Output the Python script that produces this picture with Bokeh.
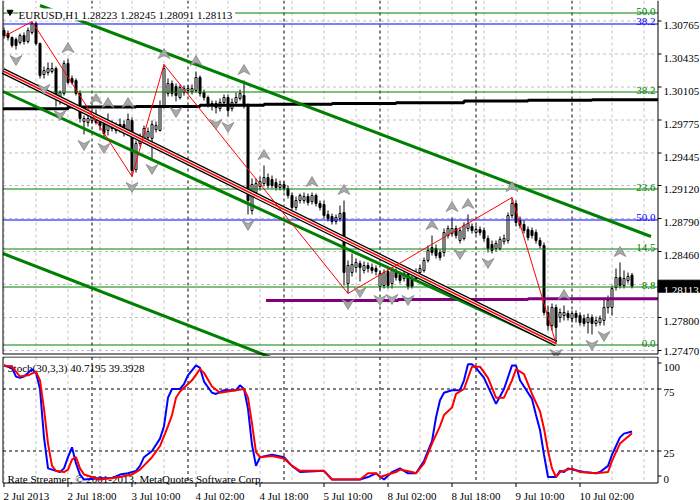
import numpy as np
from bokeh.plotting import figure
from bokeh.models import Range1d, Label
from bokeh.layouts import column
from bokeh.embed import file_html
from bokeh.resources import INLINE
from bokeh.core.properties import value

FONT = "Liberation Sans Narrow"
FS = "11px"

# ---------------- data (EURUSD H1, bar 0 = 2 Jul 2013 02:00) ----------------
opens = [1.3067, 1.3064, 1.3060, 1.3058, 1.3055, 1.3062, 1.3056, 1.3065, 1.3074, 1.3054,
         1.3023, 1.3025, 1.3026, 1.3029, 1.3000, 1.3004, 1.3034, 1.3019, 1.3017, 1.3004,
         1.2976, 1.2975, 1.2977, 1.2981, 1.2976, 1.2974, 1.2967, 1.2973, 1.2971, 1.2973,
         1.2973, 1.2964, 1.2977, 1.2928, 1.2954, 1.2958, 1.2960, 1.2959, 1.2968, 1.2967,
         1.2992, 1.3004, 1.3014, 1.3011, 1.3000, 1.3005, 1.3007, 1.3006, 1.3007, 1.3020,
         1.3005, 1.3000, 1.2994, 1.2994, 1.2989, 1.2995, 1.3000, 1.2989, 1.2995, 1.2999,
         1.3002, 1.2992, 1.2887, 1.2905, 1.2911, 1.2914, 1.2920, 1.2918, 1.2915, 1.2910,
         1.2913, 1.2909, 1.2902, 1.2890, 1.2897, 1.2897, 1.2901, 1.2896, 1.2902, 1.2894,
         1.2893, 1.2883, 1.2881, 1.2876, 1.2879, 1.2885, 1.2814, 1.2825, 1.2830, 1.2834,
         1.2827, 1.2832, 1.2830, 1.2829, 1.2811, 1.2812, 1.2826, 1.2814, 1.2826, 1.2823,
         1.2819, 1.2823, 1.2818, 1.2819, 1.2825, 1.2827, 1.2837, 1.2850, 1.2849, 1.2845,
         1.2845, 1.2862, 1.2864, 1.2869, 1.2857, 1.2859, 1.2869, 1.2871, 1.2865, 1.2868,
         1.2867, 1.2859, 1.2853, 1.2849, 1.2849, 1.2856, 1.2857, 1.2882, 1.2894, 1.2877,
         1.2873, 1.2868, 1.2867, 1.2865, 1.2857, 1.2852, 1.2785, 1.2772, 1.2790, 1.2780,
         1.2782, 1.2784, 1.2779, 1.2784, 1.2782, 1.2779, 1.2775, 1.2780, 1.2774, 1.2775,
         1.2777, 1.2790, 1.2790, 1.2810, 1.2820, 1.2812, 1.2817, 1.28223]
highs = [1.3070, 1.3067, 1.3061, 1.3060, 1.3064, 1.3065, 1.3070, 1.3076, 1.3076, 1.3055,
         1.3031, 1.3035, 1.3035, 1.3031, 1.3007, 1.3037, 1.3039, 1.3022, 1.3019, 1.3007,
         1.2982, 1.2983, 1.2986, 1.2988, 1.2979, 1.2978, 1.2984, 1.2977, 1.2975, 1.2979,
         1.2977, 1.2984, 1.2980, 1.2957, 1.2964, 1.2972, 1.2970, 1.2977, 1.2976, 1.2997,
         1.3033, 1.3019, 1.3017, 1.3014, 1.3013, 1.3012, 1.3012, 1.3013, 1.3026, 1.3022,
         1.3008, 1.3002, 1.2997, 1.2997, 1.2999, 1.3003, 1.3003, 1.2999, 1.3005, 1.3008,
         1.3017, 1.2994, 1.2919, 1.2919, 1.2921, 1.2932, 1.2924, 1.2922, 1.2919, 1.2917,
         1.2916, 1.2912, 1.2905, 1.2901, 1.2904, 1.2905, 1.2904, 1.2905, 1.2904, 1.2897,
         1.2897, 1.2887, 1.2884, 1.2883, 1.2892, 1.2897, 1.2837, 1.2844, 1.2839, 1.2837,
         1.2836, 1.2835, 1.2834, 1.2832, 1.2827, 1.2828, 1.2829, 1.2830, 1.2829, 1.2826,
         1.2827, 1.2826, 1.2822, 1.2829, 1.2833, 1.2840, 1.2852, 1.2862, 1.2853, 1.2848,
         1.2869, 1.2872, 1.2880, 1.2872, 1.2870, 1.2875, 1.2883, 1.2874, 1.2872, 1.2871,
         1.2870, 1.2862, 1.2857, 1.2857, 1.2861, 1.2863, 1.2885, 1.2900, 1.2897, 1.2881,
         1.2877, 1.2871, 1.2870, 1.2868, 1.2860, 1.2855, 1.2792, 1.2794, 1.2793, 1.2789,
         1.2792, 1.2787, 1.2787, 1.2787, 1.2785, 1.2783, 1.2784, 1.2783, 1.2781, 1.2782,
         1.2799, 1.2802, 1.2812, 1.2829, 1.2835, 1.2827, 1.2825, 1.28245]
lows = [1.3059, 1.3057, 1.3050, 1.3048, 1.3053, 1.3053, 1.3054, 1.3063, 1.3052, 1.3019,
        1.3019, 1.3022, 1.3024, 1.2991, 1.2993, 1.3002, 1.3013, 1.3013, 1.3002, 1.2975,
        1.2963, 1.2971, 1.2974, 1.2973, 1.2967, 1.2960, 1.2962, 1.2966, 1.2964, 1.2965,
        1.2961, 1.2962, 1.2921, 1.2925, 1.2951, 1.2955, 1.2957, 1.2939, 1.2965, 1.2966,
        1.2989, 1.3001, 1.3001, 1.2996, 1.2998, 1.3002, 1.3004, 1.3003, 1.3005, 1.3001,
        1.2997, 1.2990, 1.2987, 1.2984, 1.2986, 1.2992, 1.2981, 1.2986, 1.2993, 1.2997,
        1.2989, 1.2883, 1.2883, 1.2901, 1.2907, 1.2911, 1.2909, 1.2909, 1.2907, 1.2907,
        1.2906, 1.2899, 1.2887, 1.2887, 1.2894, 1.2894, 1.2892, 1.2893, 1.2891, 1.2887,
        1.2879, 1.2876, 1.2873, 1.2873, 1.2876, 1.2812, 1.2804, 1.2821, 1.2825, 1.2816,
        1.2824, 1.2825, 1.2824, 1.2822, 1.2808, 1.2809, 1.2809, 1.2809, 1.2817, 1.2814,
        1.2816, 1.2808, 1.2809, 1.2816, 1.2822, 1.2825, 1.2835, 1.2842, 1.2839, 1.2837,
        1.2841, 1.2859, 1.2861, 1.2859, 1.2854, 1.2857, 1.2866, 1.2864, 1.2863, 1.2862,
        1.2856, 1.2845, 1.2844, 1.2846, 1.2847, 1.2853, 1.2854, 1.2879, 1.2871, 1.2869,
        1.2864, 1.2857, 1.2859, 1.2854, 1.2849, 1.2782, 1.2767, 1.2767, 1.2754, 1.2775,
        1.2777, 1.2777, 1.2775, 1.2775, 1.2772, 1.2771, 1.2764, 1.2763, 1.2771, 1.2772,
        1.2772, 1.2784, 1.2782, 1.2807, 1.2809, 1.2809, 1.2814, 1.28091]
closes = [1.3062, 1.3060, 1.3052, 1.3052, 1.3062, 1.3056, 1.3067, 1.3074, 1.3054, 1.3022,
          1.3027, 1.3029, 1.3029, 1.3000, 1.3005, 1.3034, 1.3015, 1.3015, 1.3004, 1.2979,
          1.2979, 1.2979, 1.2982, 1.2975, 1.2972, 1.2964, 1.2974, 1.2969, 1.2967, 1.2968,
          1.2964, 1.2978, 1.2927, 1.2954, 1.2960, 1.2969, 1.2966, 1.2973, 1.2972, 1.2992,
          1.3029, 1.3014, 1.3004, 1.3002, 1.3010, 1.3009, 1.3009, 1.3009, 1.3020, 1.3004,
          1.3000, 1.2993, 1.2992, 1.2990, 1.2995, 1.3000, 1.2987, 1.2995, 1.3000, 1.3004,
          1.2992, 1.2897, 1.2913, 1.2914, 1.2916, 1.2920, 1.2912, 1.2912, 1.2910, 1.2913,
          1.2909, 1.2902, 1.2890, 1.2897, 1.2902, 1.2901, 1.2895, 1.2902, 1.2894, 1.2890,
          1.2882, 1.2879, 1.2876, 1.2880, 1.2884, 1.2825, 1.2832, 1.2833, 1.2835, 1.2830,
          1.2832, 1.2829, 1.2827, 1.2826, 1.2824, 1.2825, 1.2812, 1.2827, 1.2820, 1.2817,
          1.2824, 1.2811, 1.2811, 1.2825, 1.2829, 1.2837, 1.2847, 1.2845, 1.2842, 1.2840,
          1.2865, 1.2869, 1.2869, 1.2862, 1.2867, 1.2872, 1.2874, 1.2867, 1.2868, 1.2865,
          1.2859, 1.2849, 1.2847, 1.2854, 1.2858, 1.2859, 1.2882, 1.2894, 1.2875, 1.2872,
          1.2867, 1.2860, 1.2862, 1.2857, 1.2852, 1.2785, 1.2772, 1.2790, 1.2770, 1.2785,
          1.2785, 1.2780, 1.2784, 1.2780, 1.2775, 1.2774, 1.2780, 1.2774, 1.2777, 1.2779,
          1.2790, 1.2797, 1.2809, 1.2820, 1.2812, 1.2819, 1.2821, 1.28113]

fractal_up_bars = [16, 23, 26, 31, 40, 48, 60, 65, 77, 85, 107, 112, 116, 127, 140, 154]
fractal_down_bars = [3, 10, 14, 20, 25, 32, 37, 43, 53, 56, 61, 86, 89, 94, 97, 101, 114, 121, 138, 147, 150]

zigzag_bars = [0, 7, 32, 40, 86, 127, 138]
zigzag_prices = [1.3061, 1.3076, 1.2921, 1.3033, 1.2804, 1.2900, 1.2754]

fib_green_prices = [1.27525, 1.28105, 1.28485, 1.29085, 1.30055, 1.30845]
fib_green_labels = ["0.0", "8.8", "14.5", "23.6", "38.2", "50.0"]
fib_blue_prices = [1.30735, 1.28775]
fib_blue_labels = ["38.2", "50.0"]

black_step_edges = [-0.25, 16, 33, 49, 65, 82, 98, 115, 131, 147, 163.5]
black_step_prices = [1.29888, 1.29905, 1.2991, 1.29922, 1.29932, 1.2994, 1.29948, 1.29965, 1.29972, 1.29978]
purple_step_edges = [65.5, 98.5, 131, 163.5]
purple_step_prices = [1.2797, 1.2798, 1.27988]

chan_upper_bars, chan_upper_prices = [9, 161.75], [1.3092, 1.2861]
chan_lower_bars, chan_lower_prices = [-0.25, 70], [1.2844, 1.2735]
trend_black_bars, trend_black_prices = [-0.25, 138], [1.30265, 1.2754]
trend_green_bars, trend_green_prices = [-0.25, 138], [1.3006, 1.2753]

k_bars = [0,2,3,4,5,6,7,8,9,10,11,12,13,14,15,16,17,18,19,20,24,27,29,31,33,34,35,37,39,40,
          41,42,44,45,46,48,49,50,52,53,55,58,59,60,61,62,63,64,67,70,72,74,80,82,89,91,93,95,97,99,
          101,103,105,107,108,109,110,112,114,115,116,117,118,120,123,124,125,127,128,129,
          132,133,134,135,136,138,139,140,141,142,145,148,149,151,152,154,155,157]
k_vals = [94,92,85,84,85,88,91,88,75,36,11,10,9,8,11,20,28,15,6,2,3,3,6,7,9,13,20,25,35,45,
          68,75,75,79,86,94,92,81,72,71,74,74,78,75,59,30,13,20,22,20,13,8,9,2,2,4,7,2,8,11,
          7,7,17,33,52,66,72,74,74,82,95,95,92,84,63,69,75,94,94,82,
          67,54,42,22,4,4,9,8,11,10,8,7,8,13,22,36,39,40.7195]
d_bars = [0,2,4,6,8,9,10,11,12,13,15,16,17,18,19,20,22,24,29,32,34,37,39,41,42,43,44,47,49,50,
          52,54,58,60,61,62,63,64,67,70,72,74,80,82,89,91,93,94,98,99,102,103,105,107,109,110,112,113,115,117,
          119,121,123,125,127,128,130,132,134,135,136,137,138,139,142,144,148,151,152,154,157]
d_vals = [94,93,85,86,89,82,59,31,13,9,8,10,18,20,11,6,4,2,4,6,10,20,29,45,54,68,73,82,91,88,
          77,72,74,75,68,47,24,20,21,19,13,9,9,2,2,7,7,4,8,10,8,7,15,31,45,54,60,71,75,93,
          93,84,68,68,82,91,87,71,57,43,25,11,4,8,11,8,7,8,17,31,39.3928]

price_ticks = [1.30765, 1.30435, 1.30105, 1.29775, 1.29445, 1.29120, 1.28790, 1.28460, 1.27800, 1.27470]
grid_prices = price_ticks + [1.28130]
last_price = 1.28113
date_ticks = [0, 16, 32, 48, 64, 80, 96, 112, 128, 144]
date_labels = ["2 Jul 2013", "2 Jul 18:00", "3 Jul 10:00", "4 Jul 02:00", "4 Jul 18:00",
               "5 Jul 10:00", "8 Jul 02:00", "8 Jul 18:00", "9 Jul 10:00", "10 Jul 02:00"]
day_separators = [22, 46, 70, 94, 118, 142]
stoch_levels = [25, 75]
stoch_axis_labels = ["100", "75", "25", "0"]


# ---------------- pixel helpers (style only) ----------------
def bx(px):   # horizontal pixel -> bar coordinate (4 px per bar)
    return (px - 3.5) / 4.0


def py(y):    # vertical pixel -> price coordinate in the main panel
    return 1.3097 - y * 1e-4


def sv(y):    # vertical pixel (page) -> stochastic value in the lower panel
    return (481.5 - y) / 1.24


PX = 1e-4
XL, XR = bx(2.5), bx(657.5)
GRID = "#c0c0c0"
GREEN = "#008000"
BLUE = "#0000ff"
SPLIT = 356   # page row where the stochastic sub-window starts

o = np.array(opens); h = np.array(highs); l = np.array(lows); c = np.array(closes)
bars = np.arange(len(c))
inc = c >= o

xr = Range1d(bx(0), bx(700))

# ======================= main price panel =======================
p = figure(x_range=xr, y_range=Range1d(py(SPLIT), py(0)), frame_width=700, frame_height=SPLIT,
           output_backend="svg", toolbar_location=None, title=None,
           x_axis_type=None, y_axis_type=None, min_border=0)
p.outline_line_color = None
p.background_fill_color = "white"
p.border_fill_color = "white"

TOP, BOT = py(0), py(353.5)
gx = np.arange(0, 161, 8)
p.segment(x0=gx, y0=TOP, x1=gx, y1=BOT, line_color=GRID, line_dash="3 3", line_width=1)
p.segment(x0=XL, y0=grid_prices, x1=XR, y1=grid_prices, line_color=GRID, line_dash="3 3", line_width=1)
p.segment(x0=day_separators, y0=TOP, x1=day_separators, y1=BOT, line_color="black", line_dash="3 3", line_width=1)

# candles
p.segment(x0=bars, y0=h, x1=bars, y1=l, line_color="black", line_width=1)
p.vbar(x=bars[inc], width=0.5, top=c[inc], bottom=o[inc], fill_color="white", line_color="black", line_width=1)
p.vbar(x=bars[~inc], width=0.5, top=o[~inc], bottom=c[~inc], fill_color="black", line_color="black", line_width=1)

# fibonacci levels
p.segment(x0=XL, y0=fib_green_prices, x1=XR, y1=fib_green_prices, line_color=GREEN, line_width=1)
p.segment(x0=XL, y0=fib_blue_prices, x1=XR, y1=fib_blue_prices, line_color=BLUE, line_width=1)
p.text(x=[bx(655)] * len(fib_green_prices), y=[v + 2 * PX for v in fib_green_prices], text=fib_green_labels,
       text_align="right", text_baseline="alphabetic", text_color=GREEN,
       text_font=value(FONT), text_font_size=FS)
p.text(x=[bx(655)] * len(fib_blue_prices), y=[v + 2.5 * PX for v in fib_blue_prices], text=fib_blue_labels,
       text_align="right", text_baseline="alphabetic", text_color=BLUE,
       text_font=value(FONT), text_font_size=FS)

# stepped level lines
p.step(x=black_step_edges, y=black_step_prices + [black_step_prices[-1]], mode="after",
       line_color="black", line_width=3)
p.step(x=purple_step_edges, y=purple_step_prices + [purple_step_prices[-1]], mode="after",
       line_color="#800080", line_width=3)

# channel / trend lines
p.line(chan_upper_bars, chan_upper_prices, line_color=GREEN, line_width=3)
p.line(chan_lower_bars, chan_lower_prices, line_color=GREEN, line_width=3)
p.line(trend_green_bars, trend_green_prices, line_color=GREEN, line_width=3)
p.line(trend_black_bars, trend_black_prices, line_color="black", line_width=6)
p.line(trend_black_bars, trend_black_prices, line_color="white", line_width=3.5)
p.line(trend_black_bars, trend_black_prices, line_color="#ff0000", line_width=1.5)

# zigzag
p.line(zigzag_bars, zigzag_prices, line_color="#ff0000", line_width=1)

# fractal arrows
up_shape = [(0, -6), (6, 4), (0, 1), (-6, 4)]
dn_shape = [(0, 6), (6, -4), (0, -1), (-6, -4)]
fx, fy = [], []
for b in fractal_up_bars:
    cy = h[b] + 10 * PX
    fx.append([b + dx / 4.0 for dx, dy in up_shape]); fy.append([cy - dy * PX for dx, dy in up_shape])
for b in fractal_down_bars:
    cy = l[b] - 10 * PX
    fx.append([b + dx / 4.0 for dx, dy in dn_shape]); fy.append([cy - dy * PX for dx, dy in dn_shape])
p.patches(fx, fy, fill_color="#a8a8a8", line_color="#7c7c7c", line_width=0.7)

# panel borders and price scale
p.segment(x0=[XL, XR], y0=TOP, x1=[XL, XR], y1=BOT, line_color="black", line_width=1)
p.segment(x0=XL, y0=BOT, x1=XR, y1=BOT, line_color="black", line_width=1)
p.segment(x0=XR, y0=price_ticks, x1=bx(661), y1=price_ticks, line_color="black", line_width=1)
p.text(x=[bx(663)] * len(price_ticks), y=[max(t - 4 * PX, py(351)) for t in price_ticks],
       text=["%.5f" % t for t in price_ticks], text_align="left", text_baseline="alphabetic",
       text_font=value(FONT), text_font_size=FS, text_color="black")
p.quad(left=bx(657.5), right=bx(700), top=last_price + 6 * PX, bottom=last_price - 6 * PX,
       fill_color="black", line_color="black")
p.text(x=[bx(663)], y=[last_price - 4 * PX], text=["%.5f" % last_price], text_align="left",
       text_baseline="alphabetic", text_font=value(FONT), text_font_size=FS, text_color="white")

p.add_layout(Label(x=bx(18), y=py(14), text="EURUSD,H1  1.28223 1.28245 1.28091 1.28113",
                   text_font=FONT, text_font_size=FS, text_color="black", text_baseline="alphabetic",
                   background_fill_color="white"))
p.scatter(x=[bx(9.5)], y=[py(11.5)], marker="inverted_triangle", size=6, fill_color="black", line_color="black")

# ======================= stochastic panel =======================
s = figure(x_range=xr, y_range=Range1d(sv(500), sv(SPLIT)), frame_width=700, frame_height=500 - SPLIT,
           output_backend="svg", toolbar_location=None, title=None,
           x_axis_type=None, y_axis_type=None, min_border=0)
s.outline_line_color = None
s.background_fill_color = "white"
s.border_fill_color = "white"

STOP, SBOT = sv(356.5), sv(482.5)
s.segment(x0=gx, y0=STOP, x1=gx, y1=SBOT, line_color=GRID, line_dash="3 3", line_width=1)
s.segment(x0=day_separators, y0=STOP, x1=day_separators, y1=SBOT, line_color="black", line_dash="3 3", line_width=1)
s.segment(x0=XL, y0=stoch_levels, x1=XR, y1=stoch_levels, line_color="black", line_dash="3 3", line_width=1)

s.text(x=[bx(7)], y=[sv(367.5)], text=["Stoch(30,3,3) 40.7195 39.3928"], text_baseline="alphabetic",
       text_font=value(FONT), text_font_size=FS, text_color="black")
s.text(x=[bx(7)], y=[sv(478.5)], text=["Rate Streamer, \u00a9 2001-2013, MetaQuotes Software Corp."],
       text_baseline="alphabetic", text_font=value(FONT), text_font_size=FS, text_color="black")

s.line(k_bars, k_vals, line_color=BLUE, line_width=2)
s.line(d_bars, d_vals, line_color="#ff0000", line_width=2)

# borders
s.segment(x0=[XL, XR], y0=STOP, x1=[XL, XR], y1=SBOT, line_color="black", line_width=1)
s.segment(x0=XL, y0=[STOP, SBOT], x1=XR, y1=[STOP, SBOT], line_color="black", line_width=1)

# stochastic scale
lab_base = [sv(366.5), sv(391.7), sv(453.3), sv(479.3)]
lab_tick = [sv(362.5), 75, 25, sv(475.5)]
s.segment(x0=XR, y0=lab_tick, x1=bx(661), y1=lab_tick, line_color="black", line_width=1)
s.text(x=[bx(663)] * 4, y=lab_base, text=stoch_axis_labels, text_align="left", text_baseline="alphabetic",
       text_font=value(FONT), text_font_size=FS, text_color="black")

# time scale (labels start at their tick, MT4 style)
s.segment(x0=date_ticks, y0=SBOT, x1=date_ticks, y1=sv(486.5), line_color="black", line_width=1)
s.text(x=[t - 0.125 for t in date_ticks], y=[sv(495)] * len(date_ticks), text=date_labels,
       text_align="left", text_baseline="alphabetic",
       text_font=value(FONT), text_font_size=FS, text_color="black")

layout = column(p, s, spacing=0)
open("out.html", "w").write(file_html(layout, INLINE))
